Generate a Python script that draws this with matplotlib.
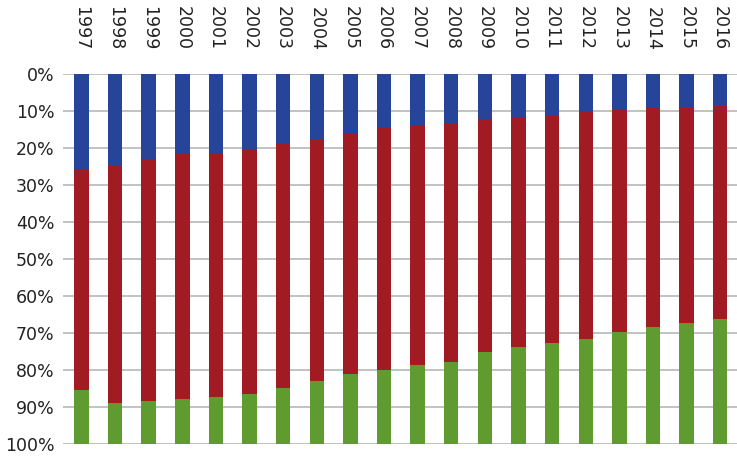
import matplotlib
matplotlib.use("Agg")
import matplotlib.pyplot as plt
import numpy as np

years = [str(y) for y in range(1997, 2017)]
blue = [26.0, 24.6, 23.1, 21.6, 21.6, 20.5, 19.0, 17.5, 16.2, 14.5,
        14.0, 13.2, 12.1, 11.6, 11.0, 10.4, 9.7, 9.2, 9.2, 8.6]
red = [59.4, 64.2, 65.2, 66.2, 65.6, 65.9, 65.8, 65.4, 65.0, 65.4,
       64.7, 64.7, 63.1, 62.3, 61.8, 61.1, 60.1, 59.3, 58.2, 57.7]
green = [14.6, 11.2, 11.7, 12.2, 12.8, 13.6, 15.2, 17.1, 18.8, 20.1,
         21.3, 22.1, 24.8, 26.1, 27.2, 28.5, 30.2, 31.5, 32.6, 33.7]
yticks = [0, 10, 20, 30, 40, 50, 60, 70, 80, 90, 100]
ytick_labels = [f"{v}%" for v in yticks]

fig = plt.figure(figsize=(7.37, 4.59), dpi=100)
ax = fig.add_axes([63 / 737, 15 / 459, 1 - 63 / 737 - 0.0, (444 - 74) / 459 + 0.0])
ax.set_position([63 / 737, 1 - 444 / 459, 1 - 63 / 737, 370 / 459])

x = np.arange(len(years))
w = 0.43
b = np.array(blue)
r = np.array(red)
g = np.array(green)
ax.bar(x, b, w, bottom=0, color="#27449B", zorder=3)
ax.bar(x, r, w, bottom=b, color="#A01B22", zorder=3)
ax.bar(x, g, w, bottom=b + r, color="#609B30", zorder=3)

ax.set_ylim(100, 0)
ax.set_xlim(-0.55, len(years) - 0.5)
ax.set_yticks(yticks)
ax.set_yticklabels(ytick_labels, fontsize=12.5, color="#222222")
ax.set_xticks(x)
ax.set_xticklabels(years, rotation=270, fontsize=12.5, color="#222222")
ax.xaxis.tick_top()
ax.tick_params(axis="x", length=0, pad=17)
ax.tick_params(axis="y", length=0, pad=6)
ax.yaxis.grid(True, color="#BDBDBD", linewidth=1.3, zorder=0)
ax.set_axisbelow(True)
for s in ax.spines.values():
    s.set_visible(False)

fig.savefig("out.png", dpi=100)
